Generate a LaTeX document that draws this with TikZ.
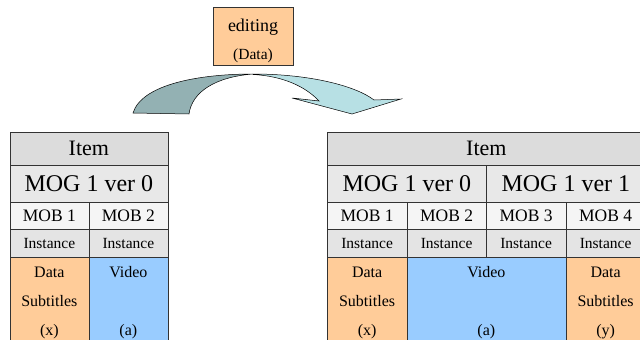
\documentclass[tikz,border=0pt]{standalone}
\usepackage{fontspec}
\setmainfont{Liberation Serif}
\definecolor{gA}{HTML}{DCDCDC}
\definecolor{gB}{HTML}{E8E8E8}
\definecolor{gC}{HTML}{F5F5F5}
\definecolor{gD}{HTML}{E4E4E4}
\definecolor{orng}{HTML}{FFCC99}
\definecolor{blu}{HTML}{99CCFF}
\definecolor{arrDark}{HTML}{93B1B3}
\definecolor{arrLight}{HTML}{B7E0E4}
\tikzset{
  cell/.style={draw=black!80, line width=0.7pt, inner sep=0pt, anchor=north west, align=center},
  itemrow/.style={cell, fill=gA, minimum height=33pt, font=\fontsize{22}{26}\selectfont},
  mogrow/.style={cell, fill=gB, minimum height=37pt, font=\fontsize{24}{28}\selectfont},
  mobrow/.style={cell, fill=gC, minimum height=27pt, font=\fontsize{17.5}{20}\selectfont},
  instrow/.style={cell, fill=gD, minimum height=28pt, font=\fontsize{15.5}{18}\selectfont},
  datarow/.style={cell, minimum height=91pt, font=\fontsize{16}{29}\selectfont},
  arrowedge/.style={draw=black, line width=0.5pt}
}
\begin{document}
\begin{tikzpicture}[x=1pt,y=-1pt]
\useasboundingbox (0,0) rectangle (640,340);
\clip (0,0) rectangle (640,340);
% editing box
\node[draw=black!80, line width=0.7pt, fill=orng, minimum width=80pt, minimum height=58pt, inner sep=0pt, align=center] (edit) at (253,36)
  {\rule{0pt}{22pt}{\fontsize{18}{20}\selectfont editing}\\[12pt]{\fontsize{15.5}{18}\selectfont (Data)}};
% curved arrow
\path[arrowedge, fill=arrDark] (133,113) .. controls (142,84) and (200,74) .. (253,74)
  .. controls (215,77) and (192,92) .. (189,114) -- cycle;
\path[arrowedge, fill=arrLight] (253,74) .. controls (310,74) and (356,86) .. (374,100)
  -- (401,99) -- (352,114) -- (292,98) -- (319,101)
  .. controls (305,86) and (282,76) .. (253,74.5) -- cycle;
% left table
\node[itemrow, minimum width=158pt] (Litem) at (9.5,132) {Item};
\node[mogrow, minimum width=158pt] (Lmog) at (9.5,165) {MOG 1 ver 0};
\node[mobrow, minimum width=79pt] (Lmob1) at (9.5,202) {MOB 1};
\node[mobrow, minimum width=79pt] (Lmob2) at (88.5,202) {MOB 2};
\node[instrow, minimum width=79pt] (Linst1) at (9.5,229) {Instance};
\node[instrow, minimum width=79pt] (Linst2) at (88.5,229) {Instance};
\node[datarow, fill=orng, minimum width=79pt] (Ldata) at (9.5,257) {Data\\Subtitles\\(x)};
\node[datarow, fill=blu, minimum width=79pt] (Lvideo) at (88.5,257) {Video\\ \\(a)};
% right table
\node[itemrow, minimum width=318pt] (Ritem) at (327,132) {Item};
\node[mogrow, minimum width=159pt] (Rmog0) at (327,165) {MOG 1 ver 0};
\node[mogrow, minimum width=159pt] (Rmog1) at (486,165) {MOG 1 ver 1};
\node[mobrow, minimum width=79.5pt] (Rmob1) at (327,202) {MOB 1};
\node[mobrow, minimum width=79.5pt] (Rmob2) at (406.5,202) {MOB 2};
\node[mobrow, minimum width=79.5pt] (Rmob3) at (486,202) {MOB 3};
\node[mobrow, minimum width=79.5pt] (Rmob4) at (565.5,202) {MOB 4};
\node[instrow, minimum width=79.5pt] (Rinst1) at (327,229) {Instance};
\node[instrow, minimum width=79.5pt] (Rinst2) at (406.5,229) {Instance};
\node[instrow, minimum width=79.5pt] (Rinst3) at (486,229) {Instance};
\node[instrow, minimum width=79.5pt] (Rinst4) at (565.5,229) {Instance};
\node[datarow, fill=orng, minimum width=79.5pt] (Rdata1) at (327,257) {Data\\Subtitles\\(x)};
\node[datarow, fill=blu, minimum width=159pt] (Rvideo) at (406.5,257) {Video\\ \\(a)};
\node[datarow, fill=orng, minimum width=79.5pt] (Rdata2) at (565.5,257) {Data\\Subtitles\\(y)};
\end{tikzpicture}
\end{document}
